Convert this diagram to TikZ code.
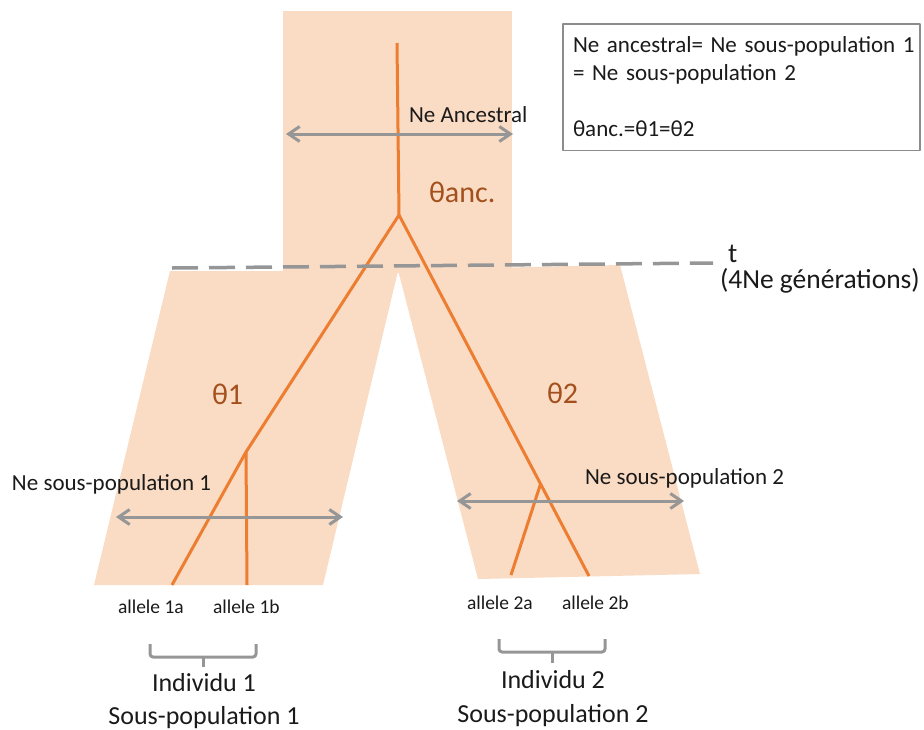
\documentclass[tikz,border=0pt]{standalone}
\usepackage{fontspec}
\setmainfont{Carlito}
\usetikzlibrary{arrows.meta,calc}
\definecolor{peach}{HTML}{FADBC3}
\definecolor{oTree}{HTML}{ED7D31}
\definecolor{gLine}{HTML}{969696}
\definecolor{gBox}{HTML}{8C8C8C}
\definecolor{thetaBrown}{HTML}{A3501D}
\definecolor{txtDark}{HTML}{1A1A1A}
\tikzset{
  setPop/.style={
    x=1pt, y=-1pt,
    line join=round,
    every node/.style={inner sep=0pt, outer sep=0pt, text=txtDark},
  },
  popFill/.style={fill=peach, draw=none},
  treeLine/.style={draw=oTree, line width=3pt, line join=miter},
  neArrow/.style={
    {Straight Barb[length=11pt, width=15pt]}-{Straight Barb[length=11pt, width=15pt]},
    draw=gLine, line width=3pt,
  },
  genLine/.style={draw=gLine, line width=3.5pt, dash pattern=on 26pt off 11pt},
  bracketLine/.style={draw=gLine, line width=3pt, rounded corners=3pt},
  neLabel/.style={font=\fontsize{23}{28}\selectfont, anchor=base west},
  timeLabel/.style={font=\fontsize{27.5}{33}\selectfont, anchor=base west},
  thetaLabel/.style={font=\fontsize{30}{36}\selectfont, text=thetaBrown, anchor=base west},
  alleleLabel/.style={font=\fontsize{19.5}{23}\selectfont, anchor=base west},
  groupLabel/.style={font=\fontsize{26}{32}\selectfont, anchor=base},
  infoBox/.style={
    draw=gBox, line width=1.2pt, fill=white, align=left,
    text width=337pt, inner xsep=10pt, inner ysep=13pt, anchor=north west,
    font=\fontsize{23}{28}\selectfont,
  },
}

\begin{document}
\begin{tikzpicture}[setPop]
\useasboundingbox (0,0) rectangle (924,729);

% ============================================================
% Population blocks: ancestral rectangle, two daughter trapezoids
% ============================================================
\fill[popFill] (170,271) -- (398,271) -- (323,585) -- (94,585) -- cycle;
\fill[popFill] (398,270) -- (620,265) -- (700,574) -- (478,579) -- cycle;
\fill[popFill] (283,11) rectangle (512,273);

% ============================================================
% Gene tree
% ============================================================
\coordinate (rootTop) at (397,43);
\coordinate (split)   at (399,215);
\coordinate (n1)      at (246,452);
\coordinate (a1a)     at (172,585);
\coordinate (a1b)     at (247,585);
\coordinate (a2b)     at (589,576);
\coordinate (n2)      at ($(split)!0.745!(a2b)$);
\coordinate (a2a)     at (511,575);

\draw[treeLine] (rootTop) -- (split) -- (n1) -- (a1a);
\draw[treeLine] (n1) -- (a1b);
\draw[treeLine] (split) -- (a2b);
\draw[treeLine] (n2) -- (a2a);

% ============================================================
% Split time t
% ============================================================
\coordinate (tL) at (172,268);
\coordinate (tR) at (713,263);
\draw[genLine] (tL) -- (tR);
\node[timeLabel] (tLab) at (728,262) {t};
\node[timeLabel] (genLab) at (720,288) {(4Ne générations)};

% ============================================================
% Ne widths
% ============================================================
\coordinate (ancL) at (286,134);
\coordinate (ancR) at (513,134);
\draw[neArrow] (ancL) -- (ancR);
\node[neLabel] (neAnc) at (409,122) {Ne Ancestral};

\coordinate (sp1L) at (116,517);
\coordinate (sp1R) at (343,517);
\draw[neArrow] (sp1L) -- (sp1R);
\node[neLabel] (neSp1) at (12,490) {Ne sous-population 1};

\coordinate (sp2L) at (457,501);
\coordinate (sp2R) at (684,501);
\draw[neArrow] (sp2L) -- (sp2R);
\node[neLabel] (neSp2) at (585,484) {Ne sous-population 2};

% theta labels
\node[thetaLabel] (thAnc) at (429,202) {θanc.};
\node[thetaLabel] (th1)   at (212,404) {θ1};
\node[thetaLabel] (th2)   at (547,403) {θ2};

% ============================================================
% Alleles and individuals
% ============================================================
\node[alleleLabel] (al1a) at (118,613) {allele 1a};
\node[alleleLabel] (al1b) at (213,613) {allele 1b};
\node[alleleLabel] (al2a) at (467,609) {allele 2a};
\node[alleleLabel] (al2b) at (562,609) {allele 2b};

\draw[bracketLine] (150,644) |- (203,657) -| (256,644);
\draw[bracketLine] (203,657) -- (203,667);
\draw[bracketLine] (499,639) |- (552,652) -| (605,639);
\draw[bracketLine] (552,652) -- (552,663);

\node[groupLabel] (ind1) at (204,691) {Individu 1};
\node[groupLabel] (sub1) at (204,724) {Sous-population 1};
\node[groupLabel] (ind2) at (553,688) {Individu 2};
\node[groupLabel] (sub2) at (553,722) {Sous-population 2};

% ============================================================
% Summary box
% ============================================================
\node[infoBox] (info) at (563,24) {%
  \mbox{Ne ancestral= Ne sous-population 1}\\
  = Ne sous-population 2\\[28pt]
  θanc.=θ1=θ2};

\end{tikzpicture}
\end{document}
